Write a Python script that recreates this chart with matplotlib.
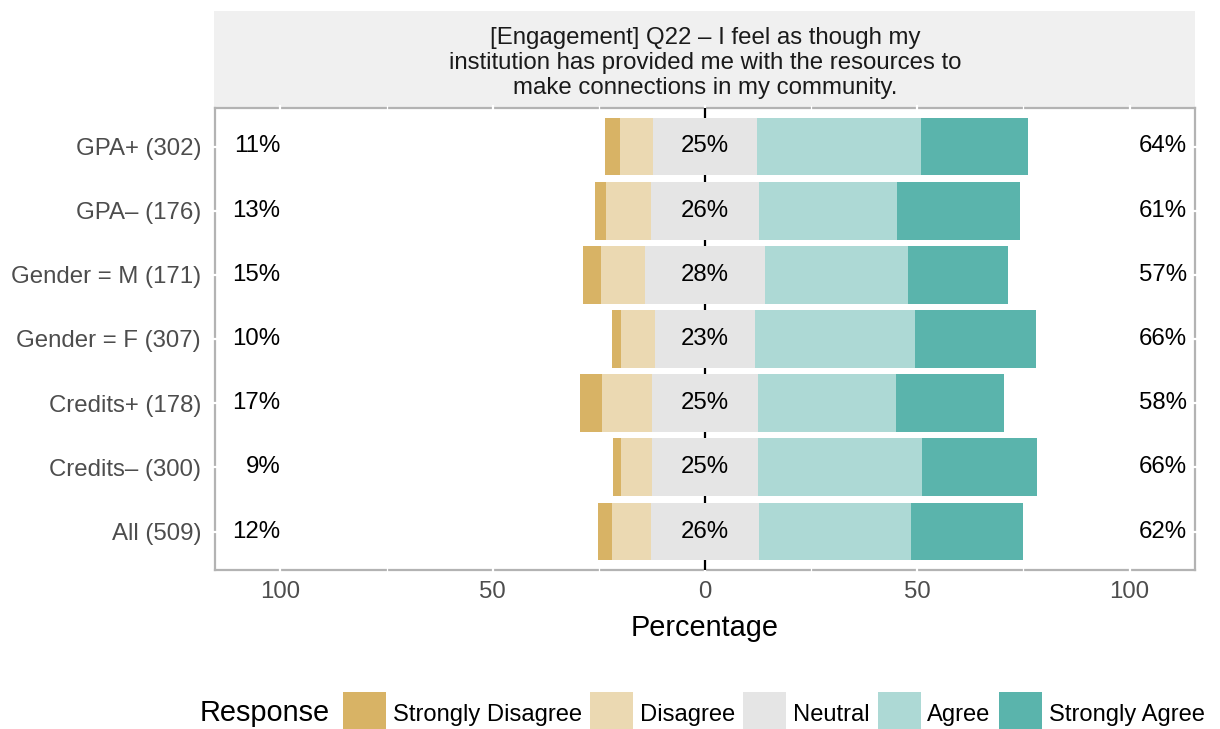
import matplotlib
matplotlib.use("Agg")
import matplotlib.pyplot as plt
from matplotlib.patches import Rectangle

plt.rcParams['font.family'] = ['Liberation Sans', 'DejaVu Sans']

# data (percent of respondents per group)
groups = ["GPA+ (302)", "GPA\u2013 (176)", "Gender = M (171)", "Gender = F (307)",
          "Credits+ (178)", "Credits\u2013 (300)", "All (509)"]
responses = ["Strongly Disagree", "Disagree", "Neutral", "Agree", "Strongly Agree"]
strongly_disagree = [3.6, 2.4, 4.2, 2.3, 5.2, 1.9, 3.3]
disagree = [7.7, 10.6, 10.4, 8.0, 11.8, 7.3, 9.0]
neutral = [24.7, 25.6, 28.2, 23.4, 25.0, 24.8, 25.6]
agree = [38.6, 32.5, 33.7, 37.8, 32.5, 38.6, 35.8]
strongly_agree = [25.2, 28.9, 23.5, 28.5, 25.5, 27.3, 26.4]
title = ("[Engagement] Q22 \u2013 I feel as though my\n"
         "institution has provided me with the resources to\n"
         "make connections in my community.")

colors = ["#D8B365", "#EBD9B2", "#E5E5E5", "#ADD9D5", "#5AB4AC"]

small = 17.3
big = 20.8

W, H = 1220, 729
fig = plt.figure(figsize=(W / 100, H / 100), dpi=100)

def fx(px):
    return px / W

def fy(py):
    return 1 - py / H

ax = fig.add_axes([fx(215), fy(570), fx(1195) - fx(215), fy(108) - fy(570)])
ax.set_xlim(-115.4, 115.4)
ax.set_ylim(len(groups) - 0.4, -0.6)

# panel border under white grid lines
for s in ax.spines.values():
    s.set_color("#b3b3b3")
    s.set_linewidth(1.6)
    s.set_zorder(0.5)

for gx in [-100, -50, 0, 50, 100]:
    ax.axvline(gx, color="white", lw=1.6, zorder=1, ymin=-0.005, ymax=1.005, clip_on=False)
for gx in [-75, -25, 25, 75]:
    ax.axvline(gx, color="white", lw=0.9, zorder=1, ymin=-0.005, ymax=1.005, clip_on=False)
for i in range(len(groups)):
    ax.axhline(i, color="white", lw=1.6, zorder=1, xmin=-0.003, xmax=1.003, clip_on=False)

ax.axvline(0, color="black", lw=1.6, zorder=1.5)

ypos = list(range(len(groups)))
half = [n / 2 for n in neutral]
ax.barh(ypos, disagree, left=[-h - d for h, d in zip(half, disagree)], height=0.9,
        color=colors[1], zorder=2)
ax.barh(ypos, strongly_disagree,
        left=[-h - d - s for h, d, s in zip(half, disagree, strongly_disagree)],
        height=0.9, color=colors[0], zorder=2)
ax.barh(ypos, neutral, left=[-h for h in half], height=0.9, color=colors[2], zorder=2)
ax.barh(ypos, agree, left=half, height=0.9, color=colors[3], zorder=2)
ax.barh(ypos, strongly_agree, left=[h + a for h, a in zip(half, agree)], height=0.9,
        color=colors[4], zorder=2)

for i in ypos:
    low = strongly_disagree[i] + disagree[i]
    high = agree[i] + strongly_agree[i]
    ax.text(-100, i, f"{round(low)}%", ha="right", va="center", fontsize=small, zorder=3)
    ax.text(102.2, i, f"{round(high)}%", ha="left", va="center", fontsize=small, zorder=3)
    ax.text(0, i, f"{round(neutral[i])}%", ha="center", va="center", fontsize=small, zorder=3)

ax.set_xticks([-100, -50, 0, 50, 100])
ax.set_xticklabels(["100", "50", "0", "50", "100"])
ax.set_yticks(ypos)
ax.set_yticklabels(groups)
ax.tick_params(axis="both", length=0, labelsize=small, labelcolor="#4d4d4d")
ax.tick_params(axis="x", pad=8)
ax.tick_params(axis="y", pad=10)

fig.text(fx(705), fy(628), "Percentage", ha="center", va="center", fontsize=big)

# facet strip
fig.add_artist(Rectangle((fx(214), fy(108)), fx(1195) - fx(214), fy(11) - fy(108),
                         transform=fig.transFigure, facecolor="#f0f0f0",
                         edgecolor="none", zorder=0))
fig.text(fx(705), fy(63), title, ha="center", va="center", fontsize=small,
         color="#1a1a1a", linespacing=1.16)

# legend along the bottom
fig.canvas.draw()
rend = fig.canvas.get_renderer()
base = 721
x = 200
t = fig.text(fx(x), fy(base), "Response", ha="left", va="baseline", fontsize=big)
x += t.get_window_extent(rend).width + 13
for lab, col in zip(responses, colors):
    fig.add_artist(Rectangle((fx(x), fy(736)), fx(43), fy(692) - fy(736),
                             transform=fig.transFigure, facecolor=col, edgecolor="none"))
    x += 43 + 6.5
    t = fig.text(fx(x), fy(base), lab, ha="left", va="baseline", fontsize=17.15)
    x += t.get_window_extent(rend).width + 8.5

fig.savefig("out.png", dpi=100)
